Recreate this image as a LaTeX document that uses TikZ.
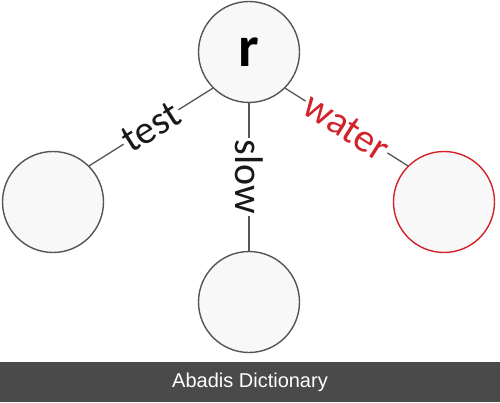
\documentclass[tikz,border=0pt]{standalone}
\usepackage{fontspec}
\setmainfont{Carlito}
\newfontfamily\bannerfont{Liberation Sans}
\definecolor{edgegray}{HTML}{555555}
\definecolor{trred}{HTML}{D2232A}
\definecolor{nodefill}{HTML}{F8F8F8}
\definecolor{bannergray}{HTML}{4A4A4A}
\tikzset{
  trnode/.style={circle,draw=edgegray,line width=1.4pt,fill=nodefill,minimum size=101pt,inner sep=0pt},
  trlabel/.style={fill=white,inner sep=1.5pt,text=black!90,font=\fontsize{40}{40}\selectfont,sloped,midway}
}
\begin{document}
\begin{tikzpicture}[x=1pt,y=1pt]
  \useasboundingbox (0,0) rectangle (500,402);
  \fill[bannergray] (0,0) rectangle (500,40);
  \node[anchor=base,text=white,font=\bannerfont\fontsize{20}{22}\selectfont] (banner) at (250,14.3) {Abadis Dictionary};
  \draw
    (249,350) node[trnode,font=\fontsize{58}{58}\selectfont\bfseries] (r){r}
    (53,200) node[trnode] (t){}
    (249,100) node[trnode] (s){}
    (444,200) node[trnode,draw=trred] (w){};
  \begin{scope}[edgegray,line width=1.3pt]
    \draw (r.south west) to node[trlabel]{test} (t.north east);
    \draw (r.south) to node[trlabel]{slow} (s.north);
    \draw (r.south east) to node[trlabel,text=trred]{water} (w.north west);
  \end{scope}
\end{tikzpicture}
\end{document}
